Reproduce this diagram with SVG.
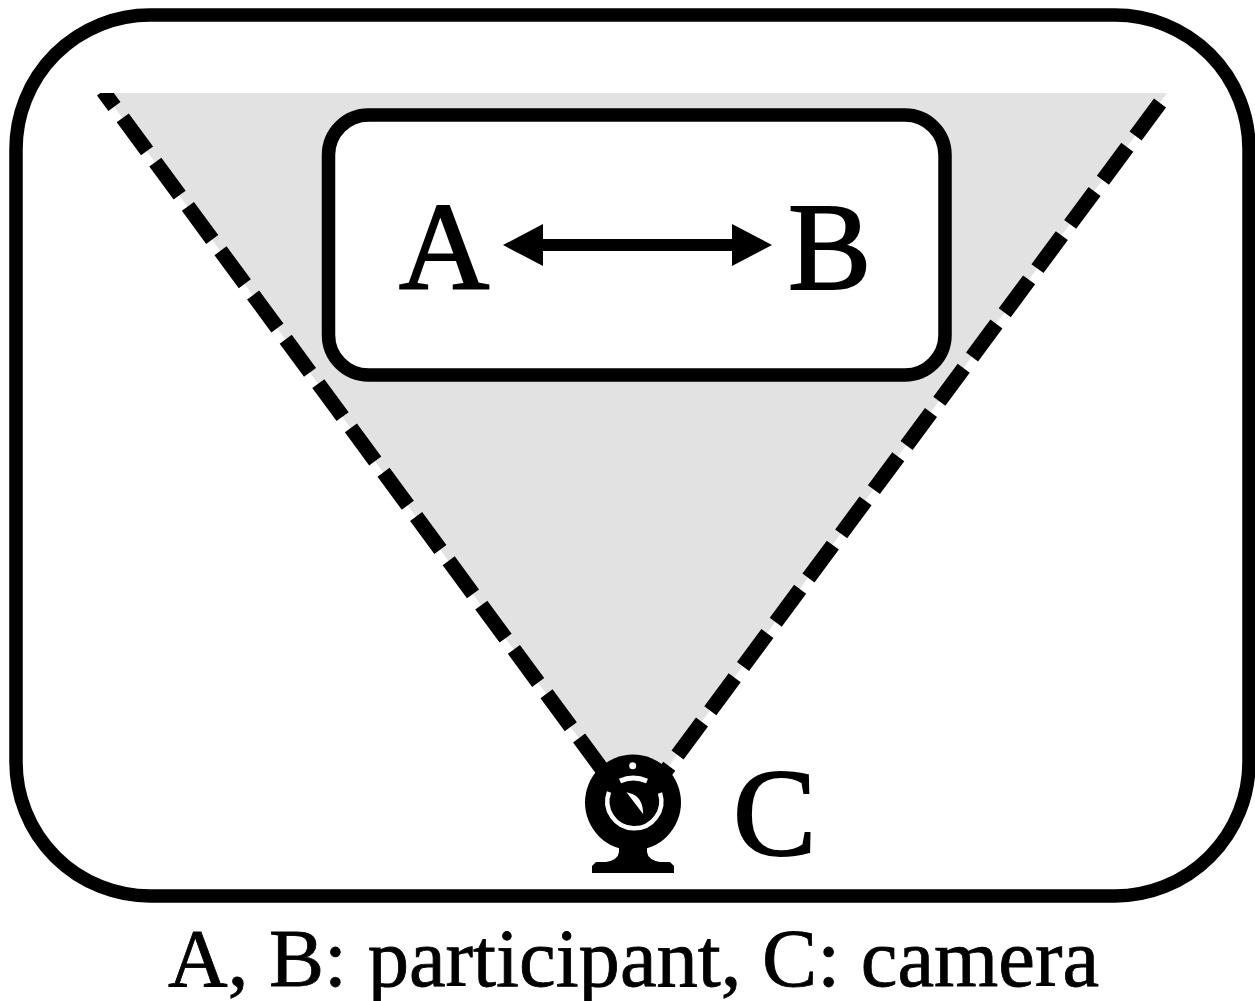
<svg xmlns="http://www.w3.org/2000/svg" width="1255" height="1001" viewBox="0 0 1255 1001">
<style>
.t{font-family:"Liberation Serif","Times New Roman",serif;fill:#000;stroke:#000}
.big{font-size:125px;stroke-width:2}
.box{fill:#fff;stroke:#000;stroke-width:13.5}
.dash{fill:none;stroke:#000;stroke-width:15;stroke-dasharray:41 14}
</style>
<defs>
<marker id="ah" viewBox="0 0 40 42" refX="2" refY="21" markerUnits="userSpaceOnUse" markerWidth="40" markerHeight="42" orient="auto-start-reverse"><path d="M40 21L0 0V42Z" fill="#000"/></marker>
<clipPath id="top"><rect x="0" y="93" width="1255" height="908"/></clipPath>
</defs>
<rect width="1255" height="1001" fill="#fff"/>
<g id="room"><rect class="box" x="16" y="15" width="1233" height="881" rx="134"/></g>
<g id="view-field"><path d="M104 93H1167L634 813Z" fill="#e3e2e3"/></g>
<g id="pair-box"><rect class="box" x="328.500" y="115" width="616.500" height="260" rx="40"/></g>
<g id="connectors">
<path class="dash" clip-path="url(#top)" stroke-dashoffset="21.700" d="M103 91L610 780"/>
<path class="dash" d="M1160 103L662 776"/>
<line x1="541" y1="245" x2="734" y2="245" stroke="#000" stroke-width="12" marker-start="url(#ah)" marker-end="url(#ah)"/>
</g>
<g id="node-a"><text class="t big" x="399" y="289">A</text></g>
<g id="node-b"><text class="t big" x="788" y="289">B</text></g>
<g id="node-c">
<text class="t big" x="733" y="855">C</text>
<g id="camera">
<circle cx="633" cy="802.500" r="48" fill="#000"/>
<path d="M609 792A27 27 0 1 0 660 793" fill="none" stroke="#fff" stroke-width="4.500"/>
<path d="M620 781Q633 775 647 781" fill="none" stroke="#fff" stroke-width="5"/>
<path d="M629 794L642 811Q641 797 629 794Z" fill="#fff" stroke="#fff" stroke-width="2"/>
<circle cx="632.700" cy="765.700" r="3.500" fill="#fff"/>
<path d="M619 845H647V852Q648 860 660 862H670L674 866V873H592V866L596 862H606Q618 860 619 852Z" fill="#000"/>
</g>
</g>
<g id="caption"><text class="t" x="168" y="985.500" font-size="82.600" stroke-width="0.8">A, B: participant, C: camera</text></g>
</svg>
